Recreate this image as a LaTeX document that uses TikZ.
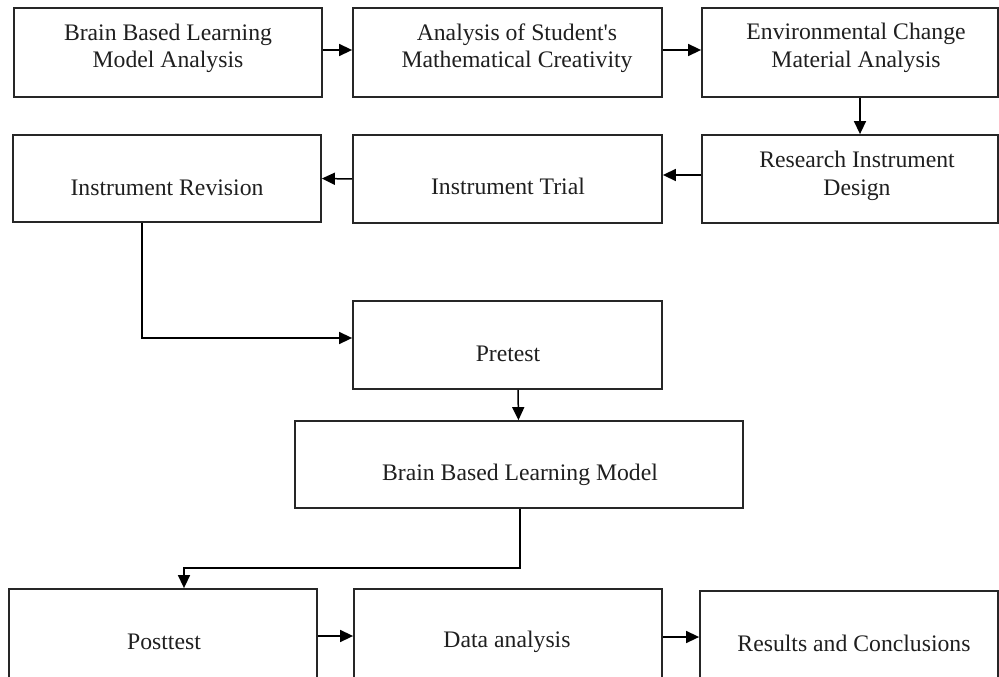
\documentclass[tikz,border=0pt]{standalone}
\usepackage{fontspec}
\setmainfont{Liberation Serif}
\usetikzlibrary{arrows.meta}
\begin{document}
\begin{tikzpicture}[x=1pt,y=-1pt,
  boxst/.style={draw=black!85, line width=1.8pt, inner sep=0pt},
  txt/.style={inner sep=0pt, align=center, text=black!88,
    font={\fontsize{23.7}{28}\selectfont}},
  arr/.style={draw=black, line width=1.5pt, -{Triangle[length=13pt,width=12pt]}}
]
\useasboundingbox (0,0) rectangle (999,677);
\clip (0,0) rectangle (999,677);
% boxes
\node[boxst, minimum width=308, minimum height=89] (b1) at (168,52.5) {};
\node[boxst, minimum width=309, minimum height=89] (b2) at (507.5,52.5) {};
\node[boxst, minimum width=296, minimum height=89] (b3) at (850,52.5) {};
\node[boxst, minimum width=296, minimum height=88] (b4) at (850,179) {};
\node[boxst, minimum width=309, minimum height=88] (b5) at (507.5,179) {};
\node[boxst, minimum width=308, minimum height=87] (b6) at (167,178.5) {};
\node[boxst, minimum width=309, minimum height=88] (b7) at (507.5,345) {};
\node[boxst, minimum width=448, minimum height=87] (b8) at (519,464.5) {};
\node[boxst, minimum width=308, minimum height=100] (b9) at (163,639) {};
\node[boxst, minimum width=308, minimum height=100] (b10) at (508,639) {};
\node[boxst, minimum width=298, minimum height=100] (b11) at (849,641) {};
% texts
\node[txt] (t1) at (168,48.4) {\strut Brain Based Learning\\\strut Model Analysis};
\node[txt] (t2) at (517,48.4) {\strut Analysis of Student\textquotesingle s\\\strut Mathematical Creativity};
\node[txt] (t3) at (856,48) {\strut Environmental Change\\\strut Material Analysis};
\node[txt] (t4) at (857,175.4) {\strut Research Instrument\\\strut Design};
\node[txt] (t5) at (508,188.4) {\strut Instrument Trial};
\node[txt] (t6) at (167,189.4) {\strut Instrument Revision};
\node[txt] (t7) at (508,355.4) {\strut Pretest};
\node[txt] (t8) at (520,474.4) {\strut Brain Based Learning Model};
\node[txt] (t9) at (164,643.4) {\strut Posttest};
\node[txt] (t10) at (507,641.4) {\strut Data analysis};
\node[txt] (t11) at (854,645.4) {\strut Results and Conclusions};
% connectors
\draw[arr] ([yshift=2.5pt]b1.east) -- ([yshift=2.5pt]b2.west);
\draw[arr] ([yshift=2.5pt]b2.east) -- ([yshift=2.5pt]b3.west);
\draw[arr] ([xshift=10pt]b3.south) -- ([xshift=10pt]b4.north);
\draw[arr] ([yshift=4pt]b4.west) -- ([yshift=4pt]b5.east);
\draw[arr] (b5.west) -- (b6.east);
\draw[arr] ([xshift=-25pt]b6.south) |- ([yshift=7pt]b7.west);
\draw[arr] ([xshift=10.5pt]b7.south) -- ([xshift=-0.5pt]b8.north);
\draw[arr] ([xshift=1pt]b8.south) -- ++(0,59) -| ([xshift=21pt]b9.north);
\draw[arr] ([yshift=3pt]b9.east) -- ([yshift=3pt]b10.west);
\draw[arr] ([yshift=2pt]b10.east) -- ([yshift=4pt]b11.west);
\end{tikzpicture}
\end{document}
